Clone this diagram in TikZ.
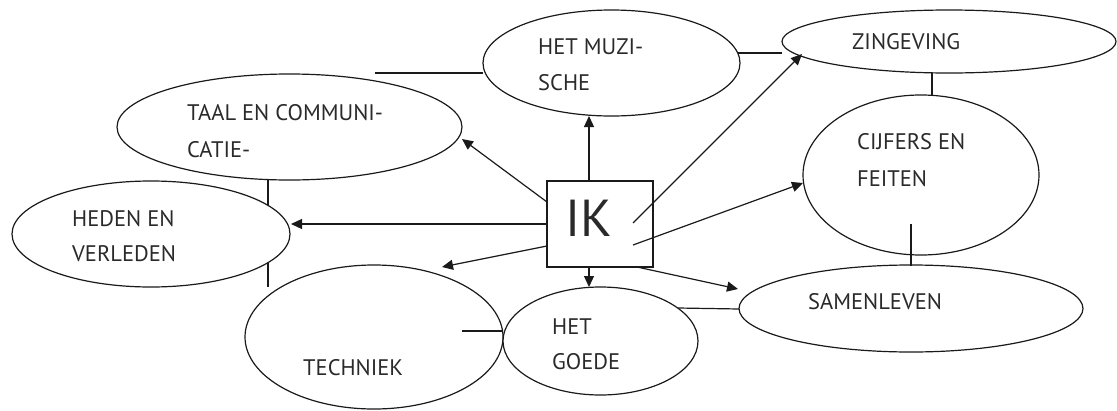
\documentclass[tikz,border=0pt]{standalone}
\usepackage{fontspec}
\setmainfont{PT Sans}
\usetikzlibrary{arrows.meta,shapes.geometric}
\definecolor{txt}{HTML}{2A2A2A}
\definecolor{ln}{HTML}{1A1A1A}
\begin{document}
\begin{tikzpicture}[x=1pt,y=-1pt,
  bubble/.style={ellipse,draw=ln,fill=white,line width=1.2pt,inner sep=0pt},
  lbl/.style={anchor=west,inner sep=0pt,text=txt,font=\fontsize{22.5}{26}\selectfont},
  link/.style={draw=ln,line width=1.2pt},
  arr/.style={draw=ln,line width=1.2pt,-{Triangle[length=11pt,width=10pt]}},
  ikbox/.style={rectangle,draw=ln,fill=white,line width=1.2pt,inner sep=0pt}]
\useasboundingbox (0,0) rectangle (1117,410);
% line behind heden
\coordinate (taal-s) at (268,180);
\coordinate (tech-n) at (268,287);
\draw[link] (taal-s) -- (tech-n);
% ellipses
\node[bubble,minimum width=345pt,minimum height=106pt] (taal) at (289.5,127) {};
\node[bubble,minimum width=278pt,minimum height=106pt] (heden) at (151,234) {};
\node[bubble,minimum width=258pt,minimum height=144pt] (tech) at (374,337) {};
\node[bubble,minimum width=195pt,minimum height=108pt] (goede) at (600.5,341) {};
\node[bubble,minimum width=344pt,minimum height=87pt] (samen) at (911,308.5) {};
\node[bubble,minimum width=236pt,minimum height=160pt] (cijf) at (921,175) {};
\node[bubble,minimum width=334pt,minimum height=63pt] (zing) at (949,41.5) {};
\node[bubble,minimum width=257pt,minimum height=106pt] (muz) at (611.5,63) {};
\node[ikbox,minimum width=106pt,minimum height=86pt] (ik) at (600,224) {};
\node[inner sep=0pt,text=txt,font=\fontsize{52}{60}\selectfont] (iktxt) at (589,218) {IK};
% plain links
\coordinate (muz-w0) at (375,73);
\coordinate (muz-w) at (483,73);
\draw[link] (muz-w0) -- (muz-w);
\coordinate (muz-e) at (738,53);
\coordinate (zing-w) at (782,53);
\draw[link] (muz-e) -- (zing-w);
\coordinate (zing-s) at (932,73);
\coordinate (cijf-n) at (932,95);
\draw[link] (zing-s) -- (cijf-n);
\coordinate (cijf-in) at (911,224);
\coordinate (samen-n) at (911,266);
\draw[link] (cijf-in) -- (samen-n);
\coordinate (goede-e) at (678,308);
\coordinate (samen-w) at (739,309);
\draw[link] (goede-e) -- (samen-w);
\coordinate (tech-in) at (462,331);
\coordinate (tech-e) at (503,331);
\draw[link] (tech-in) -- (tech-e);
% arrows from IK
\coordinate (ik-n) at (589,181);
\coordinate (muz-s) at (589,116);
\draw[arr] (ik-n) -- (muz-s);
\coordinate (ik-w1) at (547,202);
\coordinate (taal-e) at (462,139);
\draw[arr] (ik-w1) -- (taal-e);
\coordinate (ik-w2) at (547,224);
\coordinate (heden-e) at (291,224);
\draw[arr] (ik-w2) -- (heden-e);
\coordinate (ik-w3) at (547,246);
\coordinate (tech-ne) at (442,267);
\draw[arr] (ik-w3) -- (tech-ne);
\coordinate (ik-s) at (589,267);
\coordinate (goede-n) at (589,287);
\draw[arr] (ik-s) -- (goede-n);
\coordinate (ik-se) at (637,267);
\coordinate (samen-nw) at (738,289);
\draw[arr] (ik-se) -- (samen-nw);
\coordinate (ik-in2) at (633,245);
\coordinate (cijf-w) at (803,183);
\draw[arr] (ik-in2) -- (cijf-w);
\coordinate (ik-in1) at (633,223);
\coordinate (zing-sw) at (802,54);
\draw[arr] (ik-in1) -- (zing-sw);
% labels
\node[lbl] (t1) at (187,113) {TAAL EN COMMUNI-};
\node[lbl] (t2) at (187,150) {CATIE-};
\node[lbl] (m1) at (538,47) {HET MUZI-};
\node[lbl] (m2) at (538,83) {SCHE};
\node[lbl] (z1) at (852,42) {ZINGEVING};
\node[lbl] (c1) at (857,142) {CIJFERS EN};
\node[lbl] (c2) at (857,179) {FEITEN};
\node[lbl] (h1) at (72,219) {HEDEN EN};
\node[lbl] (h2) at (72,254) {VERLEDEN};
\node[lbl] (te1) at (303,368) {TECHNIEK};
\node[lbl] (g1) at (552,327) {HET};
\node[lbl] (g2) at (552,362) {GOEDE};
\node[lbl] (s1) at (808,302) {SAMENLEVEN};
\end{tikzpicture}
\end{document}
